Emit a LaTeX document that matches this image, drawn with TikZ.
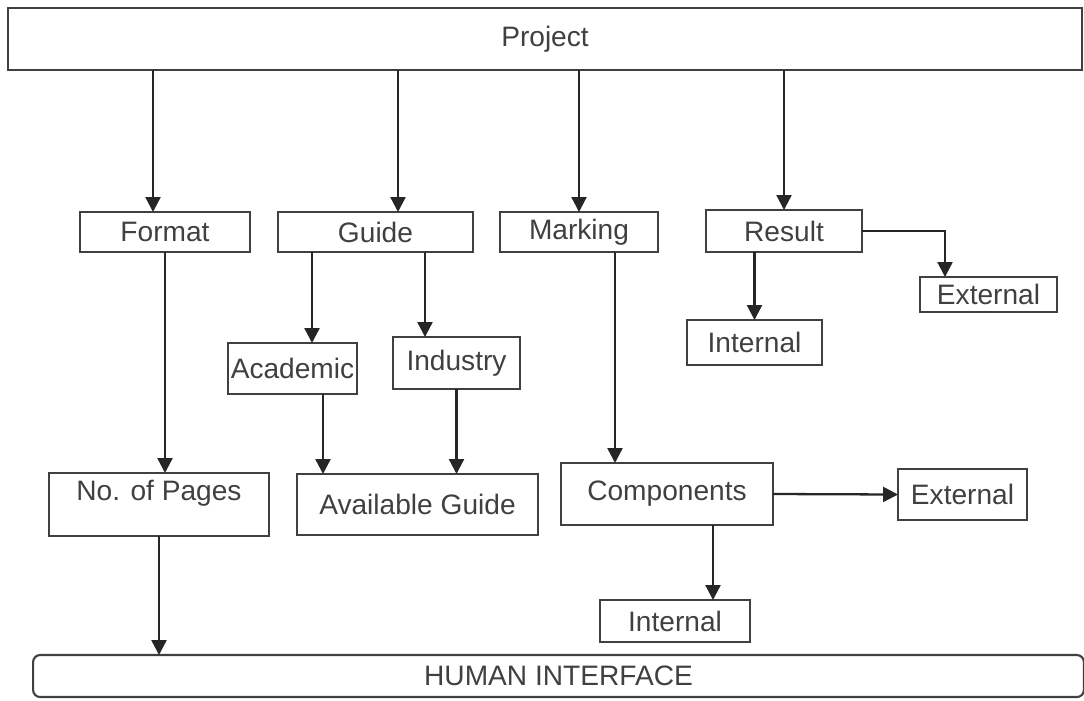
\documentclass[tikz,border=0pt]{standalone}
\usepackage{fontspec}
\setmainfont{Liberation Sans}
\usetikzlibrary{arrows.meta}

\begin{document}
\begin{tikzpicture}[x=0.02cm, y=-0.02cm,
  every node/.style={draw=black!75, line width=1.2pt, text=black!75, inner sep=0pt, outer sep=0pt, font=\fontsize{16}{19}\selectfont},
  arr/.style={draw=black!85, line width=1.3pt, -{Triangle[width=8.5pt,length=8.5pt]}}]
\useasboundingbox (0,0) rectangle (1084,700);

\node[minimum width=21.48cm, minimum height=1.24cm] (project) at (545,39) {Project};

\node[minimum width=3.4cm, minimum height=0.8cm] (format) at (165,232) {Format};
\node[minimum width=3.9cm, minimum height=0.8cm] (guide) at (375.5,232) {Guide};
\node[minimum width=3.16cm, minimum height=0.8cm] (marking) at (579,232) {Marking};
\node[minimum width=3.12cm, minimum height=0.84cm] (result) at (784,231) {Result};

\node[minimum width=2.74cm, minimum height=0.7cm] (extA) at (988.5,294.5) {External};
\node[minimum width=2.7cm, minimum height=0.9cm] (intA) at (754.5,342.5) {Internal};
\node[minimum width=2.58cm, minimum height=1.02cm] (academic) at (292.5,368.5) {Academic};
\node[minimum width=2.54cm, minimum height=1.04cm] (industry) at (456.5,363) {Industry};

\node[minimum width=4.4cm, minimum height=1.26cm, text depth=0.55cm] (pages) at (159,504.5) {No. of Pages};
\node[minimum width=4.82cm, minimum height=1.22cm] (avail) at (417.5,504.5) {Available Guide};
\node[minimum width=4.24cm, minimum height=1.24cm] (comp) at (667,494) {Components};
\node[minimum width=2.58cm, minimum height=1.02cm] (extB) at (962.5,494.5) {External};
\node[minimum width=3.0cm, minimum height=0.84cm] (intB) at (675,621) {Internal};

\node[minimum width=21.02cm, minimum height=0.84cm, rounded corners=4pt] (human) at (558.5,676) {HUMAN INTERFACE};

\draw[arr] ([xshift=-0.24cm]format.north |- project.south) -- ([xshift=-0.24cm]format.north);
\draw[arr] ([xshift=0.45cm]guide.north |- project.south) -- ([xshift=0.45cm]guide.north);
\draw[arr] (marking.north |- project.south) -- (marking.north);
\draw[arr] (result.north |- project.south) -- (result.north);

\draw[arr] (format.south) -- (format.south |- pages.north);
\draw[arr] ([xshift=0.39cm]academic.north |- guide.south) -- ([xshift=0.39cm]academic.north);
\draw[arr] ([xshift=-0.63cm]industry.north |- guide.south) -- ([xshift=-0.63cm]industry.north);
\draw[arr] ([xshift=0.61cm]academic.south) -- ([xshift=0.61cm]academic.south |- avail.north);
\draw[arr] (industry.south) -- (industry.south |- avail.north);
\draw[arr] ([xshift=0.72cm]marking.south) -- ([xshift=0.72cm]marking.south |- comp.north);

\draw[arr] (intA.north |- result.south) -- (intA.north);
\draw[arr] (result.east) -| ([xshift=-0.87cm]extA.north);

\draw[arr] (comp.east) -- (extB.west);
\draw[arr] ([xshift=0.92cm]comp.south) -- ([xshift=0.92cm]comp.south |- intB.north);
\draw[arr] (pages.south) -- (pages.south |- human.north);
\end{tikzpicture}
\end{document}
